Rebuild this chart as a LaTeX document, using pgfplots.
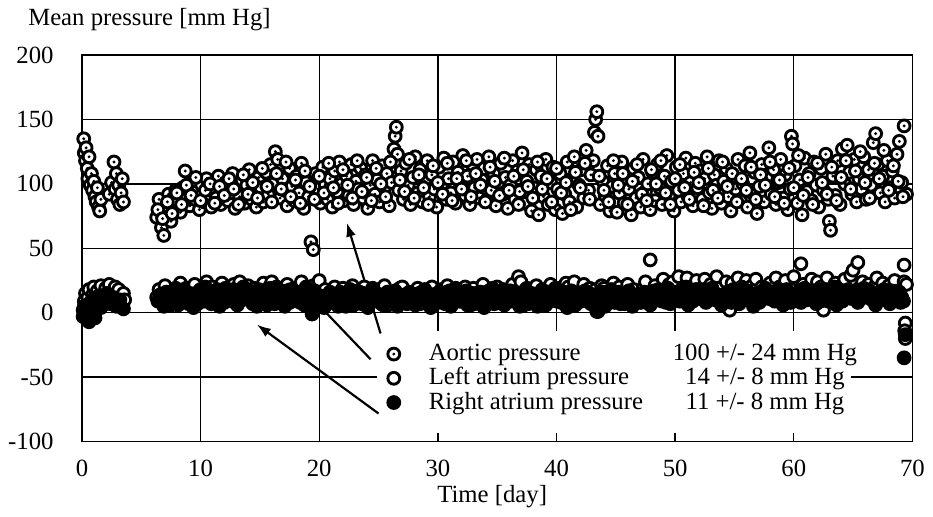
\documentclass[border=0pt]{standalone}
\usepackage{fontspec}
\setmainfont{Liberation Serif}
\usepackage{pgfplots}
\pgfplotsset{compat=1.18}
\usetikzlibrary{arrows.meta}

% circle with a small dot inside, for the aortic series
\pgfdeclareplotmark{aortic}{%
  \pgfpathcircle{\pgfpointorigin}{\pgfplotmarksize}%
  \pgfusepathqfillstroke
  \begin{pgfscope}%
    \pgfsetfillcolor{black}%
    \pgfpathcircle{\pgfpointorigin}{0.27\pgfplotmarksize}%
    \pgfusepathqfill
  \end{pgfscope}%
}

\begin{document}
\fontsize{12.5}{15}\selectfont
\begin{tikzpicture}
\begin{axis}[
    width=420pt, height=195.5pt, scale only axis,
    xmin=0, xmax=70, ymin=-100, ymax=200,
    xtick={0,10,...,70}, ytick={-100,-50,...,200},
    grid=major,
    major grid style={black, line width=0.7pt},
    axis line style={line width=0.9pt},
    major tick length=4pt,
    tick style={black, line width=0.7pt},
    /pgf/number format/assume math mode=true,
    yticklabel style={xshift=-10pt},
    xticklabel style={yshift=-5pt},
    clip=false,
    mark size=3pt,
    legend cell align=left,
    legend style={at={(rel axis cs:0.3667,0.2577)}, anchor=north west,
        draw=none, fill=none, inner sep=0pt, outer sep=0pt,
        row sep=0pt, column sep=0pt,
        nodes={inner sep=0pt, text height=9.5pt, text depth=2.75pt}},
    legend image code/.code={\draw[#1] plot coordinates {(0pt,0pt)}; \path (-3.5pt,0pt) (17.5pt,0pt);},
]

% Aortic pressure
\addplot[only marks, mark=aortic, mark options={fill=white, draw=black, line width=1.45pt}] coordinates {
 (0.15,135)(0.2,124)(0.3,118)(0.35,128)(0.45,112)(0.5,104)(0.6,121)(0.7,99)(0.8,108)(0.9,95)
 (1.0,102)(1.1,90)(1.2,86)(1.3,97)(1.4,82)(1.5,79)(1.6,88)(2.3,92)(2.5,101)(2.7,117)
 (2.8,96)(2.9,108)(3.0,88)(3.1,99)(3.2,84)(3.3,93)(3.4,104)(3.5,86)
 (6.3,74)(6.5,88)(6.7,66)(6.9,60)(7.1,79)(7.3,92)(7.5,71)(7.7,84)(7.9,95)(8.1,86)
 (8.3,78)(8.5,97)(8.7,110)(8.9,90)(9.1,83)(9.3,101)(9.5,88)(9.7,94)(9.9,80)(10.1,99)
 (10.3,86)(10.5,104)(10.7,92)(10.9,82)(11.1,97)(11.3,89)(11.5,106)(11.7,84)(11.9,95)(12.1,101)
 (12.3,87)(12.5,93)(12.7,108)(12.9,81)(13.1,96)(13.3,90)(13.5,103)(13.7,85)(13.9,99)(14.1,111)
 (14.3,88)(14.5,94)(14.7,82)(14.9,105)(15.1,97)(15.3,86)(15.5,109)(15.7,92)(15.9,115)(16.1,100)
 (16.3,125)(16.5,119)(16.7,89)(16.9,104)(17.1,95)(17.3,83)(17.5,112)(17.7,98)(17.9,87)(18.1,106)
 (18.3,93)(18.5,116)(18.7,81)(18.9,101)(19.1,90)(19.3,55)(19.5,49)(19.7,108)(19.9,96)(20.1,85)
 (20.3,113)(20.5,99)(20.7,88)(20.9,104)(21.1,82)(21.3,110)(21.5,94)(21.7,117)(21.9,100)(22.1,87)
 (22.3,106)(22.5,91)(22.7,115)(22.9,84)(23.1,102)(23.3,96)(23.5,112)(23.7,89)(23.9,107)(24.1,81)
 (24.3,99)(24.5,118)(24.7,92)(24.9,103)(25.1,86)(25.3,114)(25.5,97)(25.7,108)(25.9,83)(26.1,101)
 (26.3,127)(26.4,137)(26.5,144)(26.6,123)(26.7,95)(26.9,110)(27.1,88)(27.3,116)(27.5,99)(27.7,84)
 (27.9,105)(28.1,121)(28.3,93)(28.5,111)(28.7,86)(28.9,102)(29.1,118)(29.3,90)(29.5,107)(29.7,96)
 (29.9,82)(30.1,113)(30.3,99)(30.5,120)(30.7,88)(30.9,104)(31.1,93)(31.3,117)(31.5,85)(31.7,109)
 (31.9,100)(32.1,122)(32.3,91)(32.5,106)(32.7,84)(32.9,115)(33.1,97)(33.3,119)(33.5,89)(33.7,103)
 (33.9,112)(34.1,87)(34.3,121)(34.5,95)(34.7,108)(34.9,83)(35.1,101)(35.3,116)(35.5,92)(35.7,105)
 (35.9,81)(36.1,99)(36.3,118)(36.5,88)(36.7,110)(36.9,94)(37.1,124)(37.3,85)(37.5,102)(37.7,115)
 (37.9,79)(38.1,97)(38.3,111)(38.5,76)(38.7,106)(38.9,90)(39.1,119)(39.3,84)(39.5,101)(39.7,113)
 (39.9,80)(40.1,96)(40.3,108)(40.5,77)(40.7,92)(40.9,117)(41.1,86)(41.3,104)(41.5,121)(41.7,82)
 (41.9,99)(42.1,111)(42.3,89)(42.5,126)(42.7,95)(42.9,107)(43.1,118)(43.2,140)(43.3,150)(43.4,156)
 (43.5,137)(43.7,84)(43.9,102)(44.1,91)(44.3,114)(44.5,79)(44.7,98)(44.9,108)(45.1,78)(45.3,93)
 (45.5,117)(45.7,85)(45.9,103)(46.1,96)(46.3,76)(46.5,112)(46.7,89)(46.9,105)(47.1,82)(47.3,119)
 (47.5,94)(47.7,100)(47.9,80)(48.1,109)(48.3,87)(48.5,115)(48.7,97)(48.9,84)(49.1,106)(49.3,122)
 (49.5,91)(49.7,102)(49.9,79)(50.1,113)(50.3,95)(50.5,86)(50.7,108)(50.9,120)(51.1,90)(51.3,101)
 (51.5,83)(51.7,116)(51.9,97)(52.1,110)(52.3,88)(52.5,104)(52.7,121)(52.9,93)(53.1,81)(53.3,107)
 (53.5,99)(53.7,118)(53.9,85)(54.1,102)(54.3,112)(54.5,90)(54.7,79)(54.9,106)(55.1,96)(55.3,119)
 (55.5,87)(55.7,100)(55.9,114)(56.1,82)(56.3,124)(56.5,93)(56.7,109)(56.9,77)(57.1,98)(57.3,115)
 (57.5,86)(57.7,105)(57.9,128)(58.1,92)(58.3,111)(58.5,84)(58.7,101)(58.9,119)(59.1,89)(59.3,107)
 (59.5,80)(59.7,96)(59.8,137)(59.9,131)(60.1,114)(60.3,85)(60.5,103)(60.7,76)(60.9,120)(61.1,94)
 (61.3,108)(61.5,87)(61.7,117)(61.9,99)(62.1,82)(62.3,112)(62.5,95)(62.7,123)(62.9,88)(63.0,71)
 (63.1,64)(63.3,106)(63.5,91)(63.7,118)(63.9,84)(64.1,127)(64.3,100)(64.5,130)(64.7,109)(64.9,92)
 (65.1,119)(65.3,86)(65.5,104)(65.7,96)(65.9,121)(66.1,88)(66.3,111)(66.5,99)(66.7,132)(66.9,139)
 (67.1,115)(67.3,93)(67.5,106)(67.7,86)(67.9,118)(68.1,97)(68.3,110)(68.5,89)(68.7,123)(68.9,133)
 (69.1,101)(69.3,145)(69.5,92)
 (6.4,80)(6.8,73)(7.2,86)(7.6,77)(8.0,93)(8.4,84)(8.8,99)(9.2,91)(9.6,105)(10.0,87)
 (10.4,95)(10.8,100)(11.2,85)(11.6,98)(12.0,91)(12.4,104)(12.8,96)(13.2,84)(13.6,107)(14.0,92)
 (14.4,101)(14.8,89)(15.2,112)(15.6,98)(16.0,86)(16.4,108)(16.8,96)(17.2,117)(17.6,90)(18.0,103)
 (18.4,85)(18.8,110)(19.2,98)(19.6,88)(20.0,106)(20.4,93)(20.8,116)(21.2,97)(21.6,85)(22.0,111)
 (22.4,99)(22.8,89)(23.2,118)(23.6,94)(24.0,105)(24.4,87)(24.8,112)(25.2,100)(25.6,90)(26.0,117)
 (26.8,103)(27.2,94)(27.6,119)(28.0,89)(28.4,107)(28.8,97)(29.2,84)(29.6,114)(30.0,101)(30.4,92)
 (30.8,116)(31.2,87)(31.6,104)(32.0,96)(32.4,118)(32.8,90)(33.2,108)(33.6,99)(34.0,86)(34.4,113)
 (34.8,102)(35.2,91)(35.6,120)(36.0,95)(36.4,106)(36.8,84)(37.2,111)(37.6,98)(38.0,89)(38.4,117)
 (38.8,96)(39.2,104)(39.6,86)(40.0,112)(40.4,93)(40.8,101)(41.2,80)(41.6,109)(42.0,97)(42.4,116)
 (42.8,88)(43.6,106)(44.0,95)(44.4,86)(44.8,118)(45.2,99)(45.6,108)(46.0,84)(46.4,102)(46.8,115)
 (47.2,92)(47.6,87)(48.0,111)(48.4,100)(48.8,118)(49.2,93)(49.6,84)(50.0,104)(50.4,115)(50.8,97)
 (51.2,88)(51.6,109)(52.0,101)(52.4,83)(52.8,112)(53.2,95)(53.6,89)(54.0,117)(54.4,98)(54.8,108)
 (55.2,86)(55.6,104)(56.0,95)(56.4,113)(56.8,88)(57.2,107)(57.6,99)(58.0,117)(58.4,90)(58.8,103)
 (59.2,85)(59.6,112)(60.0,97)(60.4,122)(60.8,91)(61.2,105)(61.6,84)(62.0,116)(62.4,101)(62.8,92)
 (63.2,113)(63.6,87)(64.0,105)(64.4,118)(64.8,96)(65.2,110)(65.6,125)(66.0,101)(66.4,89)(66.8,116)
 (67.2,104)(67.6,126)(68.0,95)(68.4,114)(68.8,102)(69.2,90)
};
\addlegendentry{\makebox[123pt][l]{Aortic pressure}\makebox[94pt][c]{100 +/- 24 mm Hg}}

% Left atrium pressure
\addplot[only marks, mark=*, mark options={fill=white, draw=black, line width=1.45pt}] coordinates {
 (0.1,2)(0.2,9)(0.3,15)(0.4,-2)(0.5,12)(0.6,18)(0.8,6)(0.9,14)(1.0,20)(1.2,10)(1.3,17)(1.5,8)(1.6,21)
 (1.8,13)(2.0,19)(2.2,11)(2.3,22)(2.5,16)(2.7,9)(2.8,20)(3.0,14)(3.1,18)(3.3,7)(3.4,12)(3.5,15)(3.6,10)
 (6.3,12)(6.5,18)(6.8,8)(7.0,21)(7.3,14)(7.5,6)(7.8,17)(8.0,10)(8.3,23)(8.5,15)(8.8,19)
 (9.0,7)(9.3,16)(9.5,22)(9.8,12)(10.0,18)(10.3,9)(10.5,24)(10.8,14)(11.0,20)(11.3,11)(11.5,17)(11.8,23)
 (12.0,8)(12.3,19)(12.5,13)(12.8,22)(13.0,16)(13.3,24)(13.5,10)(13.8,18)(14.0,21)(14.3,12)(14.5,19)(14.8,7)
 (15.0,15)(15.3,23)(15.5,11)(15.8,20)(16.0,24)(16.3,9)(16.5,17)(16.8,13)(17.0,19)(17.3,22)(17.5,8)(17.8,16)
 (18.0,12)(18.3,20)(18.5,24)(18.8,10)(19.0,17)(19.3,6)(19.5,21)(19.8,14)(20.0,25)(20.3,11)(20.5,18)(20.8,8)
 (21.0,15)(21.3,20)(21.5,9)(21.8,13)(22.0,19)(22.3,7)(22.5,16)(22.8,21)(23.0,10)(23.3,17)(23.5,12)(23.8,20)
 (24.0,14)(24.3,8)(24.5,19)(24.8,11)(25.0,18)(25.3,13)(25.5,21)(25.8,6)(26.0,9)(26.3,16)(26.5,11)(26.8,19)
 (27.0,20)(27.3,12)(27.5,15)(27.8,8)(28.0,13)(28.3,19)(28.5,7)(28.8,17)(29.0,16)(29.3,10)(29.5,20)(29.8,12)
 (30.0,8)(30.3,18)(30.5,14)(30.8,21)(31.0,17)(31.3,11)(31.5,19)(31.8,9)(32.0,12)(32.3,20)(32.5,6)(32.8,16)
 (33.0,19)(33.3,9)(33.5,15)(33.8,22)(34.0,11)(34.3,17)(34.5,13)(34.8,8)(35.0,20)(35.3,14)(35.5,18)(35.8,10)
 (36.0,15)(36.3,22)(36.5,12)(36.8,28)(37.0,24)(37.3,10)(37.5,19)(37.8,16)(38.0,13)(38.3,21)(38.5,8)(38.8,18)
 (39.0,17)(39.3,12)(39.5,22)(39.8,14)(40.0,9)(40.3,19)(40.5,15)(40.8,23)(41.0,20)(41.3,11)(41.5,24)(41.8,13)
 (42.0,16)(42.3,22)(42.5,10)(42.8,19)(43.0,12)(43.3,18)(43.5,1)(43.8,21)(44.0,19)(44.3,9)(44.5,15)(44.8,23)
 (45.0,14)(45.3,20)(45.5,11)(45.8,17)(46.0,22)(46.3,8)(46.5,18)(46.8,13)(47.0,11)(47.3,19)(47.5,24)(47.9,41)
 (48.0,16)(48.3,21)(48.5,10)(48.8,18)(49.0,26)(49.3,13)(49.5,22)(49.8,24)(50.0,12)(50.3,28)(50.5,17)(50.8,15)
 (51.0,27)(51.3,20)(51.5,9)(51.8,25)(52.0,18)(52.3,13)(52.5,26)(52.8,12)(53.0,22)(53.3,17)(53.5,28)(53.8,19)
 (54.0,10)(54.3,24)(54.6,2)(54.8,23)(55.0,16)(55.3,27)(55.5,13)(55.8,17)(56.0,25)(56.3,11)(56.5,21)(56.8,26)
 (57.0,14)(57.3,20)(57.5,18)(57.8,12)(58.0,23)(58.3,16)(58.5,27)(58.8,20)(59.0,15)(59.3,25)(59.5,11)(59.8,18)
 (60.0,28)(60.3,14)(60.6,38)(60.8,22)(61.0,12)(61.3,19)(61.5,26)(61.8,15)(62.0,24)(62.3,20)(62.5,2)(62.8,27)
 (63.0,17)(63.3,13)(63.5,23)(63.8,11)(64.0,21)(64.3,26)(64.5,16)(64.8,29)(65.0,33)(65.4,39)(65.5,19)(65.8,24)
 (66.0,14)(66.3,22)(66.5,12)(66.8,20)(67.0,27)(67.3,16)(67.5,23)(67.8,13)(68.0,21)(68.3,18)(68.5,25)(68.8,17)
 (69.0,8)(69.3,37)(69.3,24)(69.4,-8)(69.35,-14)(69.4,-20)(69.5,22)
};
\addlegendentry{\makebox[123pt][l]{Left atrium pressure}\makebox[94pt][c]{14 +/- 8 mm Hg}}

% Right atrium pressure
\addplot[only marks, mark=*, mark options={fill=black, draw=black, line width=1.45pt}] coordinates {
 (0.1,-3)(0.2,5)(0.3,-1)(0.5,3)(0.6,-7)(0.7,8)(0.8,1)(1.0,11)(1.1,-4)(1.3,6)(1.4,13)(1.6,4)(1.9,9)
 (2.1,15)(2.4,7)(2.6,12)(2.9,5)(3.2,10)(3.5,3)
 (6.4,9)(6.6,14)(6.9,5)(7.1,16)(7.4,8)(7.6,12)(7.9,19)(8.1,6)(8.4,13)(8.6,18)(8.9,10)
 (9.1,15)(9.4,4)(9.6,11)(9.9,17)(10.1,9)(10.4,20)(10.6,13)(10.9,7)(11.1,14)(11.4,18)(11.6,5)(11.9,12)
 (12.1,19)(12.4,10)(12.6,16)(12.9,8)(13.1,6)(13.4,14)(13.6,20)(13.9,11)(14.1,17)(14.4,7)(14.6,13)(14.9,18)
 (15.1,10)(15.4,15)(15.6,6)(15.9,19)(16.1,13)(16.4,20)(16.6,9)(16.9,16)(17.1,5)(17.4,12)(17.6,18)(17.9,10)
 (18.1,16)(18.4,8)(18.6,14)(18.9,20)(19.1,11)(19.4,-1)(19.6,17)(19.9,7)(20.1,13)(20.4,4)(20.6,10)(20.9,16)
 (21.1,8)(21.4,14)(21.6,5)(21.9,12)(22.1,15)(22.4,9)(22.6,18)(22.9,6)(23.1,11)(23.4,16)(23.6,7)(23.9,13)
 (24.1,4)(24.4,12)(24.6,17)(24.9,9)(25.1,14)(25.4,6)(25.6,11)(25.9,15)(26.1,9)(26.4,17)(26.6,5)(26.9,12)
 (27.1,13)(27.4,7)(27.6,16)(27.9,10)(28.1,6)(28.4,15)(28.6,11)(28.9,18)(29.1,12)(29.4,4)(29.6,14)(29.9,8)
 (30.1,16)(30.4,10)(30.6,7)(30.9,13)(31.1,5)(31.4,14)(31.6,18)(31.9,9)(32.1,11)(32.4,17)(32.6,8)(32.9,15)
 (33.1,7)(33.4,12)(33.6,16)(33.9,4)(34.1,14)(34.4,9)(34.6,19)(34.9,11)(35.1,8)(35.4,16)(35.6,6)(35.9,13)
 (36.1,17)(36.4,11)(36.6,14)(36.9,5)(37.1,10)(37.4,18)(37.6,7)(37.9,15)(38.1,13)(38.4,5)(38.6,12)(38.9,17)
 (39.1,6)(39.4,14)(39.6,10)(39.9,19)(40.1,12)(40.4,8)(40.6,16)(40.9,4)(41.1,15)(41.4,11)(41.6,6)(41.9,13)
 (42.1,9)(42.4,17)(42.6,12)(42.9,7)(43.1,14)(43.4,1)(43.6,10)(43.9,16)(44.1,5)(44.4,12)(44.6,18)(44.9,8)
 (45.1,13)(45.4,7)(45.6,15)(45.9,10)(46.1,17)(46.4,5)(46.6,11)(46.9,14)(47.1,8)(47.4,16)(47.6,12)(47.9,6)
 (48.1,14)(48.4,10)(48.6,18)(48.9,9)(49.1,11)(49.4,19)(49.6,7)(49.9,15)(50.1,16)(50.4,9)(50.6,13)(50.9,20)
 (51.1,6)(51.4,14)(51.6,17)(51.9,11)(52.1,12)(52.4,18)(52.6,8)(52.9,15)(53.1,19)(53.4,10)(53.6,14)(53.9,6)
 (54.1,9)(54.4,16)(54.6,12)(54.9,18)(55.1,13)(55.4,7)(55.6,20)(55.9,10)(56.1,17)(56.4,12)(56.6,5)(56.9,15)
 (57.1,8)(57.4,14)(57.6,19)(57.9,11)(58.1,15)(58.4,9)(58.6,13)(58.9,17)(59.1,6)(59.4,18)(59.6,11)(59.9,14)
 (60.1,12)(60.4,16)(60.6,8)(60.9,19)(61.1,10)(61.4,14)(61.6,17)(61.9,7)(62.1,18)(62.4,11)(62.6,13)(62.9,9)
 (63.1,14)(63.4,20)(63.6,6)(63.9,16)(64.1,9)(64.4,13)(64.6,18)(64.9,11)(65.1,16)(65.4,8)(65.6,14)(65.9,19)
 (66.1,12)(66.4,17)(66.6,10)(66.9,6)(67.1,15)(67.4,11)(67.6,18)(67.9,13)(68.1,7)(68.4,14)(68.6,10)(68.9,16)
 (69.1,12)(69.4,-17)(69.3,-35)
 (6.75,11)(7.25,6)(7.75,14)(8.25,9)(8.75,16)(9.25,12)(9.75,7)(10.25,15)(10.75,10)(11.25,17)
 (11.75,8)(12.25,13)(12.75,18)(13.25,9)(13.75,15)(14.25,11)(14.75,5)(15.25,16)(15.75,12)(16.25,7)
 (16.75,14)(17.25,17)(17.75,9)(18.25,13)(18.75,6)(19.25,15)(19.75,10)(20.25,8)(20.75,14)(21.25,11)
 (21.75,16)(22.25,5)(22.75,12)(23.25,9)(23.75,15)(24.25,10)(24.75,13)(25.25,7)(25.75,16)(26.25,11)
 (26.75,8)(27.25,14)(27.75,12)(28.25,9)(28.75,15)(29.25,7)(29.75,13)(30.25,10)(30.75,16)(31.25,8)
 (31.75,12)(32.25,14)(32.75,6)(33.25,15)(33.75,10)(34.25,13)(34.75,7)(35.25,12)(35.75,16)(36.25,9)
 (36.75,13)(37.25,6)(37.75,14)(38.25,10)(38.75,8)(39.25,16)(39.75,12)(40.25,14)(40.75,9)(41.25,17)
 (41.75,10)(42.25,13)(42.75,15)(43.25,8)(43.75,12)(44.25,14)(44.75,10)(45.25,16)(45.75,7)(46.25,13)
 (46.75,9)(47.25,15)(47.75,11)(48.25,17)(48.75,13)(49.25,8)(49.75,16)(50.25,11)(50.75,15)(51.25,9)
 (51.75,18)(52.25,13)(52.75,10)(53.25,16)(53.75,12)(54.25,14)(54.75,8)(55.25,17)(55.75,11)(56.25,14)
 (56.75,9)(57.25,16)(57.75,13)(58.25,10)(58.75,18)(59.25,12)(59.75,8)(60.25,15)(60.75,11)(61.25,17)
 (61.75,13)(62.25,9)(62.75,15)(63.25,11)(63.75,18)(64.25,12)(64.75,15)(65.25,10)(65.75,13)(66.25,16)
 (66.75,9)(67.25,14)(67.75,10)(68.25,17)(68.75,12)(69.25,9)
};
\addlegendentry{\makebox[123pt][l]{Right atrium pressure}\makebox[94pt][c]{11 +/- 8 mm Hg}}

% blank area behind the legend
\fill[white] (rel axis cs:0.355,0.023) rectangle (rel axis cs:0.926,0.2865);

% arrows from the legend to the data
\draw[line width=1.1pt, -{Latex[length=7pt,width=5pt]}] (axis cs:25.17,-16.1) -- (axis cs:22.33,69.8);
\draw[line width=1.1pt, -{Latex[length=7pt,width=5pt]}] (axis cs:24.33,-36.1) -- (axis cs:18.75,17.7);
\draw[line width=1.1pt, -{Latex[length=7pt,width=5pt]}] (axis cs:25.0,-78.2) -- (axis cs:14.75,-9.2);

% titles
\node[anchor=base west, xshift=-31.5pt, yshift=15pt] at (rel axis cs:0,1) {Mean pressure [mm Hg]};
\node[anchor=base, yshift=-31pt] at (rel axis cs:0.494,0) {Time [day]};

% page size
\path (rel axis cs:0,0) ++(-40pt,-34.5pt);
\path (rel axis cs:1,1) ++(6.5pt,27.5pt);
\end{axis}
\end{tikzpicture}
\end{document}
